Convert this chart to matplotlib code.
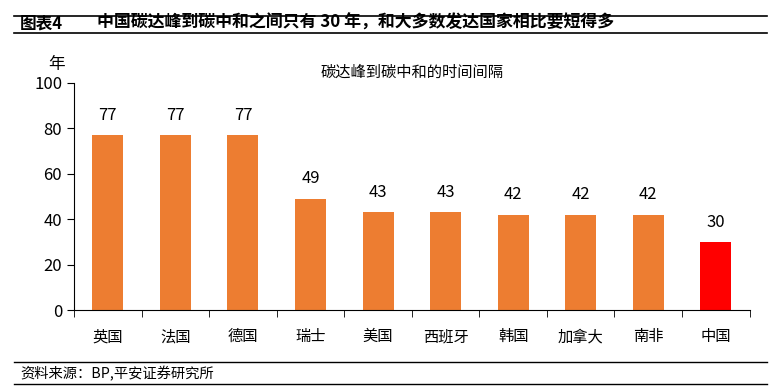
import matplotlib.pyplot as plt
from matplotlib.lines import Line2D

plt.rcParams['font.family'] = ['Noto Sans CJK SC', 'DejaVu Sans']

countries = ['英国', '法国', '德国', '瑞士', '美国', '西班牙', '韩国', '加拿大', '南非', '中国']
years = [77, 77, 77, 49, 43, 43, 42, 42, 42, 30]
colors = ['#ED7D31'] * 9 + ['#FF0000']

fig = plt.figure(figsize=(7.81, 3.91), dpi=100)
ax = fig.add_axes([0.0948, 0.207, 0.865, 0.581])

x = range(len(countries))
ax.bar(x, years, width=0.46, color=colors)
for i, v in enumerate(years):
    ax.text(i, v + 5, str(v), ha='center', va='bottom', fontsize=12)

ax.set_xlim(-0.5, len(countries) - 0.5)
ax.set_ylim(0, 100)
ax.set_yticks(range(0, 101, 20))
ax.tick_params(axis='y', labelsize=12, length=5, direction='out')
ax.set_xticks(x)
ax.set_xticklabels(countries, fontsize=11)
ax.tick_params(axis='x', length=0, pad=13)
# category boundary ticks
ax.set_xticks([i - 0.5 for i in range(len(countries) + 1)], minor=True)
ax.tick_params(axis='x', which='minor', length=5, direction='out')
for s in ['top', 'right']:
    ax.spines[s].set_visible(False)

ax.text(0.5, 1.045, '碳达峰到碳中和的时间间隔', transform=ax.transAxes,
        ha='center', va='center', fontsize=11)
fig.text(57 / 781, 1 - 64 / 391, '年', ha='center', va='center', fontsize=12)

# header
fig.add_artist(Line2D([14 / 781, 767 / 781], [1 - 16 / 391] * 2, color='black', lw=1.2))
fig.add_artist(Line2D([14 / 781, 767 / 781], [1 - 33 / 391] * 2, color='black', lw=1.2))
fig.text(20 / 781, 1 - 23 / 391, '图表4', ha='left', va='center', fontsize=12, fontweight='bold')
fig.text(97 / 781, 1 - 23 / 391, '中国碳达峰到碳中和之间只有 30 年，和大多数发达国家相比要短得多',
         ha='left', va='center', fontsize=12.2, fontweight='bold')

# footer
fig.add_artist(Line2D([14 / 781, 767 / 781], [1 - 362 / 391] * 2, color='black', lw=1))
fig.add_artist(Line2D([14 / 781, 767 / 781], [1 - 384 / 391] * 2, color='black', lw=1))
fig.text(20 / 781, 1 - 374 / 391, '资料来源：BP,平安证券研究所', ha='left', va='center',
         fontsize=10.3, style='italic')

fig.savefig('out.png', dpi=100)
